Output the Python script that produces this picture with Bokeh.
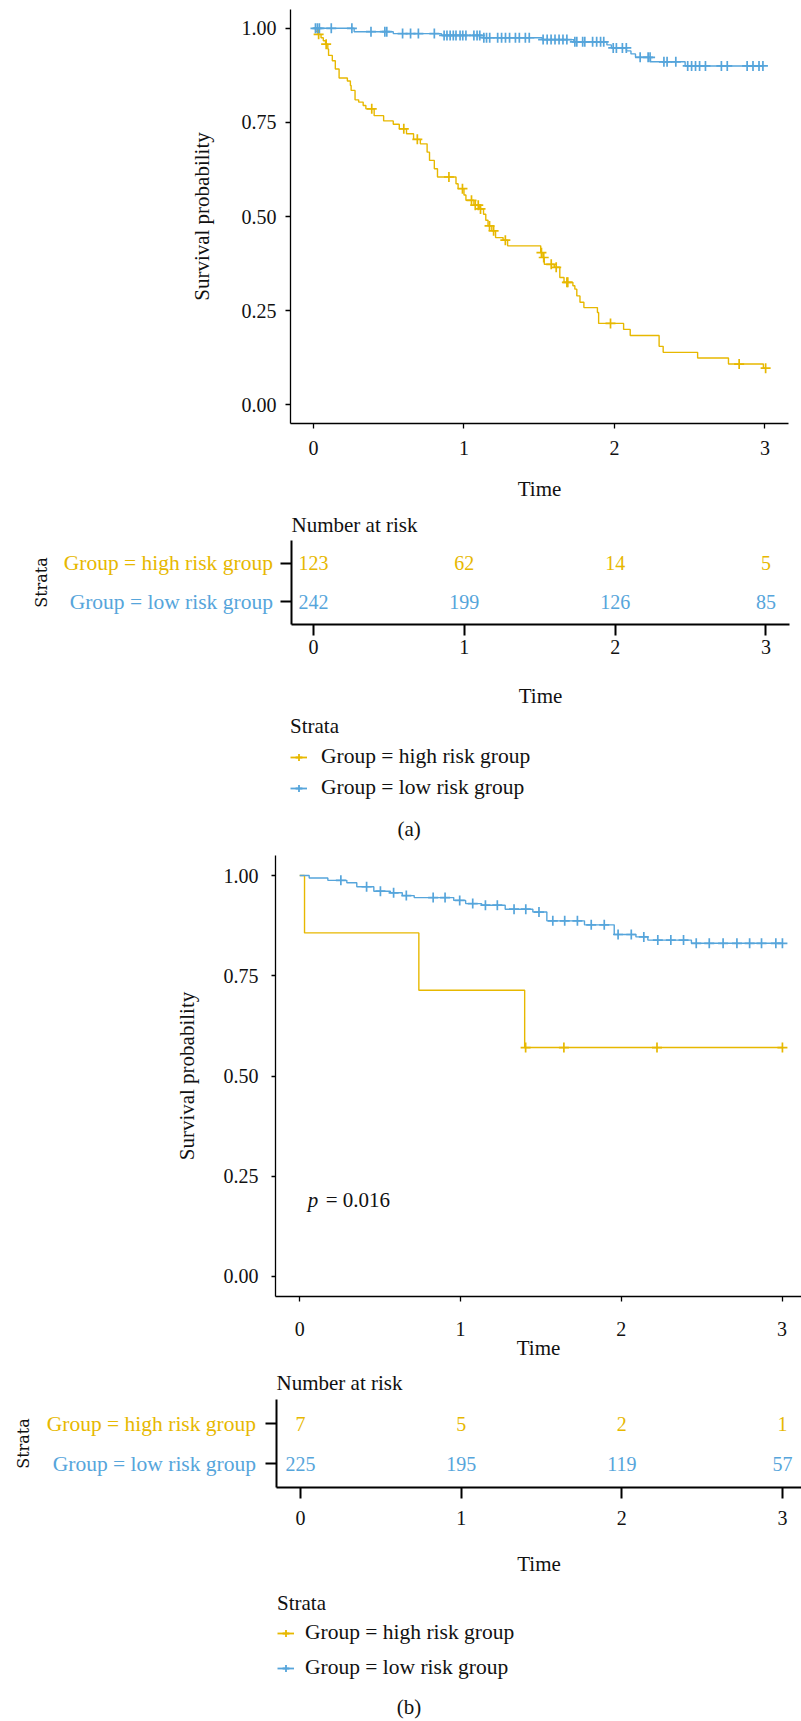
import numpy as np
from bokeh.plotting import figure
from bokeh.layouts import row
from bokeh.models import (Range1d, FixedTicker, NumeralTickFormatter, Label, Legend,
                          LegendItem, CustomJSTickFormatter)
from bokeh.embed import file_html
from bokeh.resources import INLINE
from bokeh.core.properties import value

# ---------------- data : panel (a) ----------------
a_high_times = [0.0, 0.015, 0.03, 0.05, 0.065, 0.08, 0.095, 0.10, 0.125, 0.145, 0.17, 0.225,
                0.245, 0.25, 0.276, 0.30, 0.33, 0.348, 0.403, 0.466, 0.53, 0.57, 0.618, 0.665,
                0.71, 0.755, 0.771, 0.803, 0.824, 0.947, 0.961, 1.0, 1.013, 1.066, 1.105, 1.13,
                1.145, 1.16, 1.185, 1.21, 1.26, 1.29, 1.51, 1.525, 1.534, 1.60, 1.637, 1.665,
                1.724, 1.737, 1.75, 1.771, 1.797, 1.887, 1.895, 2.061, 2.105, 2.297, 2.324,
                2.553, 2.758, 2.99]
a_high_surv = [1.0, 0.992, 0.984, 0.975, 0.967, 0.958, 0.945, 0.928, 0.914, 0.892, 0.868, 0.860,
               0.848, 0.835, 0.810, 0.804, 0.795, 0.786, 0.768, 0.754, 0.745, 0.733, 0.720, 0.705,
               0.693, 0.671, 0.649, 0.627, 0.605, 0.587, 0.574, 0.557, 0.543, 0.530, 0.520, 0.506,
               0.490, 0.475, 0.462, 0.444, 0.437, 0.422, 0.404, 0.391, 0.373, 0.365, 0.338, 0.325,
               0.316, 0.307, 0.289, 0.272, 0.258, 0.245, 0.216, 0.200, 0.184, 0.155, 0.139,
               0.124, 0.108, 0.097]
a_high_censor = [0.034, 0.084, 0.387, 0.60, 0.69, 0.90, 0.99, 1.05, 1.075, 1.095, 1.11, 1.17,
                 1.197, 1.275, 1.515, 1.53, 1.58, 1.613, 1.684, 1.69, 1.974, 2.829, 3.005]

a_low_times = [0.0, 0.27, 0.53, 0.85, 1.13, 1.52, 1.73, 1.95, 1.98, 2.08, 2.11, 2.14, 2.24, 2.47]
a_low_surv = [1.0, 0.991, 0.986, 0.981, 0.975, 0.970, 0.964, 0.956, 0.948, 0.940, 0.932, 0.923,
              0.911, 0.900]
a_low_censor = [0.013, 0.026, 0.039, 0.118, 0.255, 0.382, 0.474, 0.487, 0.592, 0.645, 0.697,
                0.803, 0.868, 0.887, 0.908, 0.929, 0.947, 0.974, 0.992, 1.013, 1.066, 1.087,
                1.105, 1.132, 1.15, 1.171, 1.224, 1.25, 1.276, 1.303, 1.342, 1.368, 1.408, 1.434,
                1.526, 1.553, 1.579, 1.605, 1.632, 1.658, 1.684, 1.737, 1.75, 1.789, 1.803, 1.855,
                1.882, 1.908, 1.929, 1.992, 2.013, 2.053, 2.079, 2.171, 2.224, 2.237, 2.329, 2.35,
                2.408, 2.487, 2.513, 2.539, 2.566, 2.605, 2.711, 2.75, 2.882, 2.921, 2.961, 2.987]

risk_times = [0, 1, 2, 3]
a_risk_high = [123, 62, 14, 5]
a_risk_low = [242, 199, 126, 85]

# ---------------- data : panel (b) ----------------
b_high_times = [0.0, 0.03, 0.741, 1.399]
b_high_surv = [1.0, 0.857, 0.714, 0.571]
b_high_censor = [1.405, 1.643, 2.222, 3.002]

b_low_times = [0.0, 0.059, 0.175, 0.293, 0.355, 0.461, 0.564, 0.638, 0.712, 0.958, 1.032,
               1.131, 1.278, 1.45, 1.537, 1.771, 1.956, 2.091, 2.165, 2.436]
b_low_surv = [1.0, 0.994, 0.988, 0.982, 0.972, 0.961, 0.957, 0.950, 0.945, 0.938, 0.930,
              0.926, 0.916, 0.909, 0.887, 0.877, 0.853, 0.847, 0.839, 0.831]
b_low_censor = [0.256, 0.416, 0.502, 0.584, 0.663, 0.83, 0.904, 0.995, 1.076, 1.155, 1.229,
                1.333, 1.406, 1.488, 1.574, 1.648, 1.727, 1.813, 1.894, 1.98, 2.062, 2.14,
                2.227, 2.308, 2.387, 2.466, 2.547, 2.633, 2.719, 2.798, 2.872, 2.961, 3.002]

b_risk_high = [7, 5, 2, 1]
b_risk_low = [225, 195, 119, 57]
b_pvalue = "= 0.016"

time_ticks = [0, 1, 2, 3]
surv_ticks = [0, 0.25, 0.5, 0.75, 1.0]
group_labels = ["Group = high risk group", "Group = low risk group"]

# ---------------- style ----------------
YEL = "#E7B800"
BLU = "#56A5DB"
SERIF = "Liberation Serif"
INK = "#111111"
W = 801


def level_at(times, surv, t):
    idx = np.searchsorted(np.asarray(times), np.asarray(t), side="right") - 1
    return np.asarray(surv)[idx]


def draw_km(p, times, surv, cens, color, msize):
    end = max(max(cens), times[-1])
    xs = list(times) + [end]
    ys = list(surv) + [surv[-1]]
    p.step(xs, ys, mode="after", line_color=color, line_width=1.4)
    p.scatter(cens, level_at(times, surv, cens), marker="cross", size=msize,
              line_color=color, line_width=1.7)


def bare(p):
    p.outline_line_color = None
    p.xgrid.visible = False
    p.ygrid.visible = False


def style_axis(ax, lw, tick_out, standoff):
    ax.axis_line_color = "black"
    ax.axis_line_width = lw
    ax.major_tick_line_color = "black"
    ax.major_tick_line_width = lw
    ax.major_tick_in = 0
    ax.major_tick_out = tick_out
    ax.minor_tick_line_color = None
    ax.major_label_standoff = standoff
    ax.major_label_text_font = SERIF
    ax.major_label_text_font_size = "20px"
    ax.major_label_text_color = INK
    ax.axis_label_text_font = SERIF
    ax.axis_label_text_font_size = "21px"
    ax.axis_label_text_font_style = "normal"
    ax.axis_label_text_color = INK


def main_panel(height, bl, br, bt, bb, xr, ytick_out, ystand, ylab_stand, xstand, xlab_stand):
    p = figure(width=W, height=height, x_range=Range1d(*xr), y_range=Range1d(-0.05, 1.05),
               output_backend="svg", toolbar_location=None,
               min_border_left=bl, min_border_right=br, min_border_top=bt, min_border_bottom=bb)
    bare(p)
    p.xaxis.ticker = FixedTicker(ticks=time_ticks)
    p.yaxis.ticker = FixedTicker(ticks=surv_ticks)
    p.yaxis.formatter = NumeralTickFormatter(format="0.00")
    p.xaxis.axis_label = "Time"
    p.yaxis.axis_label = "Survival probability"
    style_axis(p.xaxis[0], 1.3, 5, xstand)
    style_axis(p.yaxis[0], 1.3, ytick_out, ystand)
    p.xaxis.axis_label_standoff = xlab_stand
    p.yaxis.axis_label_standoff = ylab_stand
    return p


def risk_panel(height, lab_w, bl, br, bt, bb, xr, r_high, r_low, title_stand, xstand,
               xlab_stand, lab_right, strata_x):
    # left part: strata names (coloured) and the rotated "Strata" title
    q = figure(width=lab_w, height=height, x_range=Range1d(0, lab_w), y_range=Range1d(0.4, 2.6),
               output_backend="svg", toolbar_location=None, min_border_left=0,
               min_border_right=0, min_border_top=bt, min_border_bottom=bb,
               x_axis_location=None, y_axis_location=None)
    bare(q)
    q.text(x=[lab_right, lab_right], y=[2, 1], text=group_labels, text_align="right",
           text_baseline="middle", text_color=[YEL, BLU], text_font=value(SERIF),
           text_font_size="21.5px")
    q.text(x=[strata_x], y=[1.5], text=["Strata"], angle=np.pi / 2, text_align="center",
           text_baseline="middle", text_color=INK, text_font=value("DejaVu Serif"),
           text_font_size="16px")

    # right part: the table itself
    p = figure(width=W - lab_w, height=height, x_range=Range1d(*xr), y_range=Range1d(0.4, 2.6),
               output_backend="svg", toolbar_location=None,
               min_border_left=bl, min_border_right=br, min_border_top=bt, min_border_bottom=bb)
    bare(p)
    p.title.text = "Number at risk"
    p.title.align = "left"
    p.title.text_font = SERIF
    p.title.text_font_size = "21px"
    p.title.text_font_style = "normal"
    p.title.text_color = INK
    p.title.standoff = title_stand
    p.xaxis.ticker = FixedTicker(ticks=risk_times)
    p.yaxis.ticker = FixedTicker(ticks=[1, 2])
    p.yaxis.formatter = CustomJSTickFormatter(code="return '';")
    p.xaxis.axis_label = "Time"
    style_axis(p.xaxis[0], 2, 11, xstand)
    style_axis(p.yaxis[0], 2, 11, 1)
    p.xaxis.axis_label_standoff = xlab_stand
    for r, vals, col in ((2, r_high, YEL), (1, r_low, BLU)):
        p.text(x=risk_times, y=[r] * len(risk_times), text=[str(v) for v in vals],
               text_align="center", text_baseline="middle", text_color=col,
               text_font=value(SERIF), text_font_size="20px")
    return row(q, p, spacing=0)


def legend_panel(height, loc, title_stand, spacing, label_stand, caption, cap_x, cap_y):
    p = figure(width=W, height=height, x_range=Range1d(0, W), y_range=Range1d(0, height),
               output_backend="svg", toolbar_location=None, min_border=0,
               x_axis_location=None, y_axis_location=None)
    bare(p)
    items = []
    for lab, col in ((group_labels[0], YEL), (group_labels[1], BLU)):
        # NaN-only sources: nothing is drawn in the panel, only the legend keys
        rl = p.line([np.nan], [np.nan], line_color=col, line_width=1.8)
        rm = p.scatter([np.nan], [np.nan], marker="cross", size=9, line_color=col,
                       line_width=1.8)
        items.append(LegendItem(label=lab, renderers=[rl, rm]))
    leg = Legend(items=items, location=loc, title="Strata", margin=0, padding=0,
                 spacing=spacing, label_standoff=label_stand, glyph_width=17, glyph_height=20,
                 title_standoff=title_stand, border_line_color=None, background_fill_alpha=0,
                 label_text_font=SERIF, label_text_font_size="21.5px", label_text_color=INK,
                 title_text_font=SERIF, title_text_font_size="21px",
                 title_text_font_style="normal", title_text_color=INK)
    p.add_layout(leg)
    p.add_layout(Label(x=cap_x, y=cap_y, text=caption, text_align="center",
                       text_baseline="middle", text_color=INK, text_font=SERIF,
                       text_font_size="21px"))
    return p


# ---------------- panel (a) ----------------
fa = main_panel(507, 290, 13, 9, 84, (-0.153, 3.157), 5, 9, 25, 12, 19)
draw_km(fa, a_high_times, a_high_surv, a_high_censor, YEL, 10)
draw_km(fa, a_low_times, a_low_surv, a_low_censor, BLU, 10)

ta = risk_panel(207, 274, 17, 12, 33, 90, (-0.146, 3.156), a_risk_high, a_risk_low,
                7, 4, 27, 272.4, 41)

la = legend_panel(131, (290, 45), 5, 6, 14, "(a)", 408.6, 17)

# ---------------- panel (b) ----------------
fb = main_panel(519, 275, 0, 10, 68, (-0.1505, 3.1206), 4, 13, 22, 20, -3)
draw_km(fb, b_high_times, b_high_surv, b_high_censor, YEL, 10)
draw_km(fb, b_low_times, b_low_surv, b_low_censor, BLU, 10)
fb.add_layout(Label(x=0.05, y=0.19, text="p", text_align="left", text_baseline="middle",
                    text_font=SERIF, text_font_size="21px", text_font_style="italic",
                    text_color=INK))
fb.add_layout(Label(x=0.05, y=0.19, x_offset=18, text=b_pvalue, text_align="left",
                    text_baseline="middle", text_font=SERIF, text_font_size="21px",
                    text_color=INK))

tb = risk_panel(218, 259, 17, 0, 34, 95, (-0.149, 3.118), b_risk_high, b_risk_low,
                9, 12, 24, 255.5, 23)

lb = legend_panel(139, (277, 41), 4, 10, 11, "(b)", 408.6, 14.3)

open("out.html", "w").write(file_html([fa, ta, la, fb, tb, lb], INLINE))
